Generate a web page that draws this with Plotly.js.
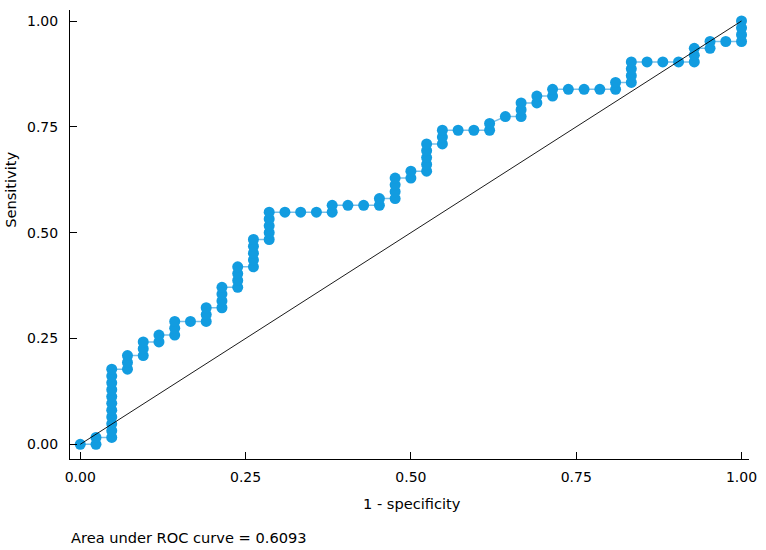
<!DOCTYPE html>
<html>
<head>
<meta charset="utf-8">
<script src="https://cdn.plot.ly/plotly-3.0.1.min.js"></script>
<style>html,body{margin:0;padding:0;background:#fff;}#chart{width:766px;height:550px;}</style>
</head>
<body>
<div id="chart"></div>
<script>
// ROC points: counts of false positives (of 42 negatives)
// and true positives (of 62 positives)
const nNeg = 42;
const nPos = 62;
const fpCount = [0, 1,1, 2,2,2,2,2,2,2,2,2,2,2, 3,3,3, 4,4,4, 5,5, 6,6,6, 7, 8,8,8, 9,9,9,9,
  10,10,10,10, 11,11,11,11,11, 12,12,12,12,12, 13, 14, 15, 16,16, 17, 18, 19,19,
  20,20,20,20, 21,21, 22,22,22,22,22, 23,23,23, 24, 25, 26,26, 27, 28,28,28, 29,29,
  30,30, 31, 32, 33, 34,34, 35,35,35,35, 36, 37, 38, 39,39,39, 40,40, 41, 42,42,42,42];
const tpCount = [0, 0,1, 1,2,3,4,5,6,7,8,9,10,11, 11,12,13, 13,14,15, 15,16, 16,17,18, 18, 18,19,20, 20,21,22,23,
  23,24,25,26, 26,27,28,29,30, 30,31,32,33,34, 34, 34, 34, 34,35, 35, 35, 35,36,
  36,37,38,39, 39,40, 40,41,42,43,44, 44,45,46, 46, 46, 46,47, 48, 48,49,50, 50,51,
  51,52, 52, 52, 52, 52,53, 53,54,55,56, 56, 56, 56, 56,57,58, 58,59, 59, 59,60,61,62];
const xTicks = [0, 0.25, 0.5, 0.75, 1];
const xTickText = ['0.00', '0.25', '0.50', '0.75', '1.00'];
const yTicks = [0, 0.25, 0.5, 0.75, 1];
const yTickText = ['0.00', '0.25', '0.50', '0.75', '1.00'];
const refLine = [0, 1];
const xTitle = '1 - specificity';
const yTitle = 'Sensitivity';
const note = 'Area under ROC curve = 0.6093';

const fpr = fpCount.map(v => v / nNeg);
const tpr = tpCount.map(v => v / nPos);

const FONT = 'DejaVu Sans, Verdana, sans-serif';

const traces = [
  {
    x: fpr, y: tpr, type: 'scatter', mode: 'lines+markers',
    line: {color: 'rgb(120,190,232)', width: 1.5},
    marker: {color: 'rgb(18,156,224)', size: 11, line: {width: 0}},
    hoverinfo: 'skip', cliponaxis: false
  },
  {
    x: refLine, y: refLine, type: 'scatter', mode: 'lines',
    line: {color: '#000', width: 0.9},
    hoverinfo: 'skip'
  }
];

const layout = {
  width: 766, height: 550,
  margin: {l: 70, r: 17, t: 10, b: 91, pad: 0},
  paper_bgcolor: '#fff', plot_bgcolor: '#fff',
  showlegend: false,
  font: {family: FONT, size: 14, color: '#000'},
  xaxis: {
    range: [-0.0155, 1.0113], tickvals: xTicks, ticktext: xTickText,
    ticks: 'inside', ticklen: 7, tickwidth: 1, tickcolor: '#000',
    showline: true, linecolor: '#000', linewidth: 1,
    showgrid: false, zeroline: false, ticklabelstandoff: 5,
    tickfont: {family: FONT, size: 14, color: '#000'}
  },
  yaxis: {
    range: [-0.0347, 1.026], tickvals: yTicks, ticktext: yTickText,
    ticks: 'inside', ticklen: 7, tickwidth: 1, tickcolor: '#000',
    showline: true, linecolor: '#000', linewidth: 1,
    showgrid: false, zeroline: false, ticklabelstandoff: 8,
    tickfont: {family: FONT, size: 14, color: '#000'}
  },
  annotations: [
    {text: xTitle, xref: 'paper', yref: 'paper', x: 0.503, y: -0.1, xanchor: 'center', yanchor: 'middle',
     showarrow: false, font: {family: FONT, size: 14.6, color: '#000'}},
    {text: yTitle, xref: 'paper', yref: 'paper', x: -0.088, y: 0.6, xanchor: 'center', yanchor: 'middle',
     textangle: -90, showarrow: false, font: {family: FONT, size: 14.6, color: '#000'}},
    {text: note, xref: 'paper', yref: 'paper', x: -0.002, y: -0.174, xanchor: 'left', yanchor: 'middle',
     showarrow: false, font: {family: FONT, size: 14.6, color: '#000'}}
  ]
};

Plotly.newPlot('chart', traces, layout, {displayModeBar: false, staticPlot: true});
</script>
</body>
</html>
